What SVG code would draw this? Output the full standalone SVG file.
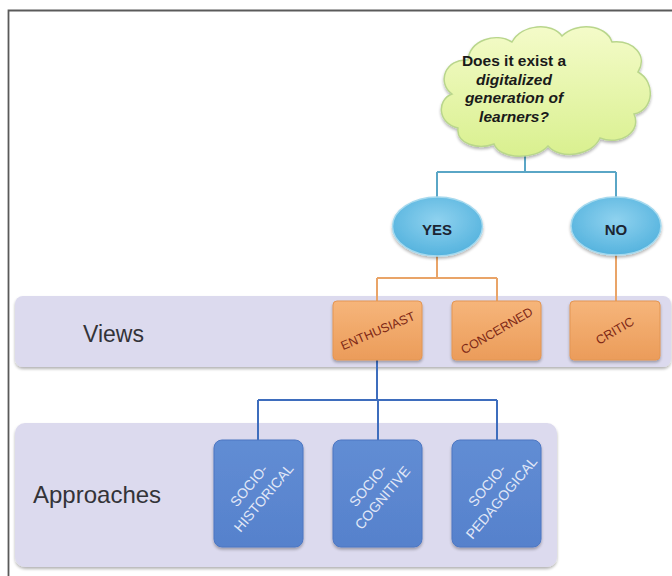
<svg xmlns="http://www.w3.org/2000/svg" width="672" height="576" viewBox="0 0 672 576">
<defs>
  <linearGradient id="cloudG" x1="0" y1="0" x2="0" y2="1">
    <stop offset="0" stop-color="#f4fbc9"/>
    <stop offset="1" stop-color="#d9f08f"/>
  </linearGradient>
  <radialGradient id="ellG" cx="0.5" cy="0.4" r="0.6">
    <stop offset="0" stop-color="#8fd2ef"/>
    <stop offset="1" stop-color="#55b3de"/>
  </radialGradient>
  <linearGradient id="orG" x1="0" y1="0" x2="0" y2="1">
    <stop offset="0" stop-color="#f6b57a"/>
    <stop offset="1" stop-color="#eb9c5a"/>
  </linearGradient>
  <linearGradient id="blG" x1="0" y1="0" x2="0" y2="1">
    <stop offset="0" stop-color="#618dd4"/>
    <stop offset="1" stop-color="#5681cc"/>
  </linearGradient>
  <filter id="sh" x="-5%" y="-5%" width="110%" height="120%">
    <feGaussianBlur in="SourceAlpha" stdDeviation="1.5"/>
    <feOffset dx="0" dy="2" result="b"/>
    <feComponentTransfer><feFuncA type="linear" slope="0.3"/></feComponentTransfer>
    <feMerge><feMergeNode/><feMergeNode in="SourceGraphic"/></feMerge>
  </filter>
  <style>
    .band{fill:#dcdaee;filter:url(#sh)}
    .lbl{font-family:"Liberation Sans",Arial,sans-serif;fill:#333338}
    .ell{fill:url(#ellG);stroke:#a5d9ee;stroke-width:1.5;filter:url(#sh)}
    .ellT{font-family:"Liberation Sans",Arial,sans-serif;font-weight:bold;font-size:15px;fill:#1c2533;text-anchor:middle}
    .or{fill:url(#orG);stroke:#e39654;stroke-width:1;filter:url(#sh)}
    .orT{font-family:"Liberation Sans",Arial,sans-serif;font-size:12.5px;fill:#7e2816;text-anchor:middle}
    .bl{fill:url(#blG);stroke:#4d77c2;stroke-width:1;filter:url(#sh)}
    .blT{font-family:"Liberation Sans",Arial,sans-serif;font-size:14px;fill:#e2e8f7;text-anchor:middle}
    .cq{font-family:"Liberation Sans",Arial,sans-serif;font-weight:bold;font-size:15.5px;fill:#1a1a1a;text-anchor:middle}
    .c-teal{stroke:#5aa6c6;stroke-width:2;fill:none}
    .c-or{stroke:#e9a468;stroke-width:2;fill:none}
    .c-bl{stroke:#3e6dbd;stroke-width:2;fill:none}
  </style>
</defs>
<rect width="672" height="576" fill="#ffffff"/>
<path d="M8.5,576 V10.5 H672" fill="none" stroke="#5a5a5a" stroke-width="1.8"/>

<g id="band-views">
  <rect class="band" x="15" y="296" width="656" height="71" rx="8"/>
  <text class="lbl" x="83" y="342" font-size="23">Views</text>
</g>
<g id="band-approaches">
  <rect class="band" x="15" y="423" width="542" height="144" rx="10"/>
  <text class="lbl" x="33" y="503" font-size="24">Approaches</text>
</g>

<g id="connectors">
  <path class="c-teal" d="M525,154 V172 M437,172 H616 M437,172 V197 M616,172 V197"/>
  <path class="c-or" d="M437,256 V278 M377,278 H497 M377,278 V301 M497,278 V301 M616,255 V301"/>
  <path class="c-bl" d="M377,360 V400 M258,400 H497 M258,400 V440 M378,400 V440 M497,400 V440"/>
</g>

<g id="question">
  <path d="M458,128 C438,124 436,100 452,94 C436,82 446,58 468,60 C470,40 496,32 512,42 C522,24 552,22 562,36 C576,22 606,24 612,42 C634,40 648,56 638,72 C656,82 654,110 634,114 C642,132 620,146 600,138 C592,156 560,160 548,146 C536,160 500,160 494,144 C478,150 456,144 458,128 Z" fill="url(#cloudG)" stroke="#b9d68c" stroke-width="1.5" filter="url(#sh)"/>
  <text class="cq" x="514" y="66">Does it exist a</text>
  <text class="cq" x="514" y="85" font-style="italic">digitalized</text>
  <text class="cq" x="514" y="103" font-style="italic">generation of</text>
  <text class="cq" x="514" y="122" font-style="italic">learners?</text>
</g>

<g id="yes">
  <ellipse class="ell" cx="437.5" cy="226.5" rx="45" ry="29.5"/>
  <text class="ellT" x="437" y="235">YES</text>
</g>
<g id="no">
  <ellipse class="ell" cx="616" cy="226" rx="45" ry="29"/>
  <text class="ellT" x="616" y="235">NO</text>
</g>

<g id="enthusiast">
  <rect class="or" x="333" y="301" width="89" height="59" rx="4"/>
  <text class="orT" transform="rotate(-23 378 331)" x="378" y="335">ENTHUSIAST</text>
</g>
<g id="concerned">
  <rect class="or" x="452" y="301" width="89" height="59" rx="4"/>
  <text class="orT" transform="rotate(-30 497 331)" x="497" y="335">CONCERNED</text>
</g>
<g id="critic">
  <rect class="or" x="570" y="301" width="90" height="59" rx="4"/>
  <text class="orT" transform="rotate(-30 615 331)" x="615" y="335">CRITIC</text>
</g>

<g id="socio-historical">
  <rect class="bl" x="214" y="440" width="89" height="107" rx="8"/>
  <g transform="rotate(-50 258.5 493.5)">
    <text class="blT" x="258.5" y="486">SOCIO-</text>
    <text class="blT" x="258.5" y="505">HISTORICAL</text>
  </g>
</g>
<g id="socio-cognitive">
  <rect class="bl" x="333" y="440" width="89" height="107" rx="8"/>
  <g transform="rotate(-50 377.5 493.5)">
    <text class="blT" x="377.5" y="486">SOCIO-</text>
    <text class="blT" x="377.5" y="505">COGNITIVE</text>
  </g>
</g>
<g id="socio-pedagogical">
  <rect class="bl" x="452" y="440" width="89" height="107" rx="8"/>
  <g transform="rotate(-50 496.5 493.5)">
    <text class="blT" x="496.5" y="486">SOCIO-</text>
    <text class="blT" x="496.5" y="505">PEDAGOGICAL</text>
  </g>
</g>
</svg>
